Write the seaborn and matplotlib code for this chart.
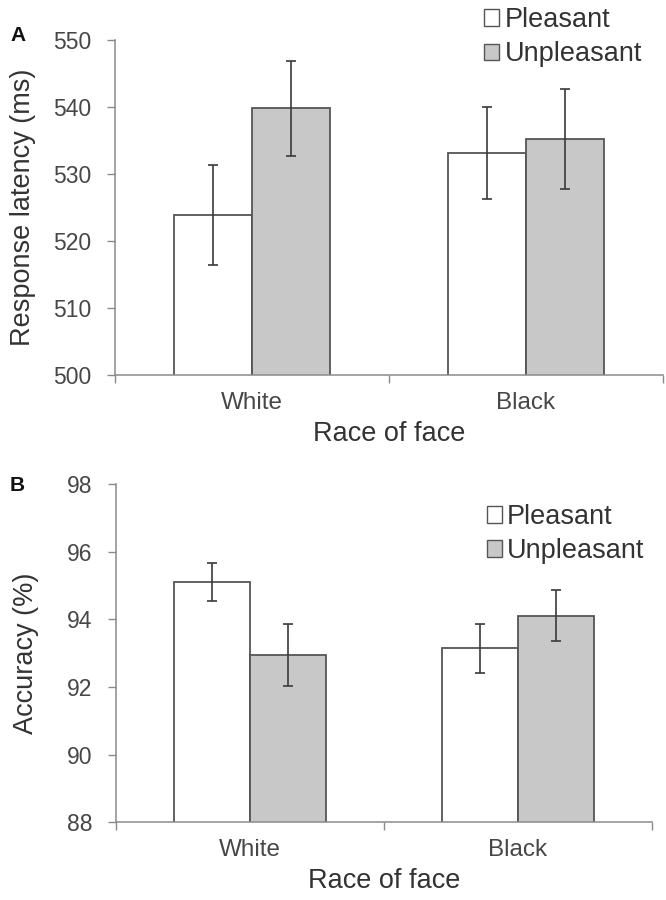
import matplotlib
matplotlib.use("Agg")
import matplotlib.pyplot as plt
import seaborn as sns
import pandas as pd
from matplotlib.patches import Patch

# data
races = ["White", "Black"]
valences = ["Pleasant", "Unpleasant"]

latency_mean = {"Pleasant": [523.9, 533.1], "Unpleasant": [539.8, 535.2]}
latency_err = {"Pleasant": [7.5, 6.9], "Unpleasant": [7.1, 7.5]}

accuracy_mean = {"Pleasant": [95.11, 93.14], "Unpleasant": [92.94, 94.11]}
accuracy_err = {"Pleasant": [0.57, 0.72], "Unpleasant": [0.91, 0.76]}

colors = {"Pleasant": "#ffffff", "Unpleasant": "#c8c8c8"}
edge = "#555555"
spine_col = "#8a8a8a"
text_col = "#474747"


def make_df(means, errs):
    rows = []
    for v in valences:
        for r, m, e in zip(races, means[v], errs[v]):
            rows.append({"race": r, "valence": v, "mean": m, "err": e})
    return pd.DataFrame(rows)


sns.set_theme(style="white")
plt.rcParams["font.family"] = ["Liberation Sans", "DejaVu Sans"]

fig = plt.figure(figsize=(6.66, 9), dpi=100)
ax_a = fig.add_axes([0.1727, 0.5833, 0.8228, 0.3723])
ax_b = fig.add_axes([0.1742, 0.0863, 0.8048, 0.3759])


def draw_panel(ax, df, ylim, step, ylabel, letter, letter_y, leg_anchor):
    sns.barplot(data=df, x="race", y="mean", hue="valence", order=races,
                hue_order=valences, palette=colors, edgecolor=edge,
                linewidth=1.3, errorbar=None, width=0.57, legend=False, ax=ax)
    # error bars on each bar centre
    for cont, v in zip(ax.containers, valences):
        sub = df[df["valence"] == v].set_index("race").loc[races]
        xs = [p.get_x() + p.get_width() / 2 for p in cont]
        ax.errorbar(xs, sub["mean"], yerr=sub["err"], fmt="none",
                    ecolor="#3a3a3a", elinewidth=1.2, capsize=3.5,
                    capthick=1.2, zorder=5)

    ax.set_xlim(-0.5, 1.5)
    ax.set_ylim(*ylim)
    ax.set_yticks(range(ylim[0], ylim[1] + 1, step))
    ax.set_xticks([-0.5, 0.5, 1.5], minor=True)
    ax.tick_params(axis="x", which="major", length=0, pad=12,
                   labelsize=17.5, labelcolor=text_col)
    ax.tick_params(axis="x", which="minor", length=6, width=1,
                   color=spine_col, direction="out", bottom=True)
    ax.tick_params(axis="y", length=6, width=1, color=spine_col,
                   direction="out", left=True, pad=11,
                   labelsize=16.5, labelcolor=text_col)

    for s in ["top", "right"]:
        ax.spines[s].set_visible(False)
    for s in ["left", "bottom"]:
        ax.spines[s].set_color(spine_col)
        ax.spines[s].set_linewidth(1.1)

    ax.set_xlabel("Race of face", fontsize=19.5, color="#333333", labelpad=5)
    ax.set_ylabel(ylabel, fontsize=19.5, color="#333333", va="center")
    ax.yaxis.set_label_coords(-0.168, 0.5)
    ax.grid(False)

    handles = [Patch(facecolor=colors[v], edgecolor=edge, linewidth=1.0)
               for v in valences]
    ax.legend(handles, valences, loc="upper left", bbox_to_anchor=leg_anchor,
              bbox_transform=fig.transFigure, frameon=False, fontsize=19.5,
              handlelength=0.55, handleheight=0.55, handletextpad=0.2,
              labelspacing=0.3, borderpad=0, borderaxespad=0,
              labelcolor="#333333")
    fig.text(0.015, letter_y, letter, fontsize=15, fontweight="bold",
             color="#111111", ha="left", va="center")


draw_panel(ax_a, make_df(latency_mean, latency_err), (500, 550), 10,
           "Response latency (ms)", "A", 0.961, (0.727, 0.992))
draw_panel(ax_b, make_df(accuracy_mean, accuracy_err), (88, 98), 2,
           "Accuracy (%)", "B", 0.461, (0.731, 0.44))

fig.savefig("out.png", dpi=100)
